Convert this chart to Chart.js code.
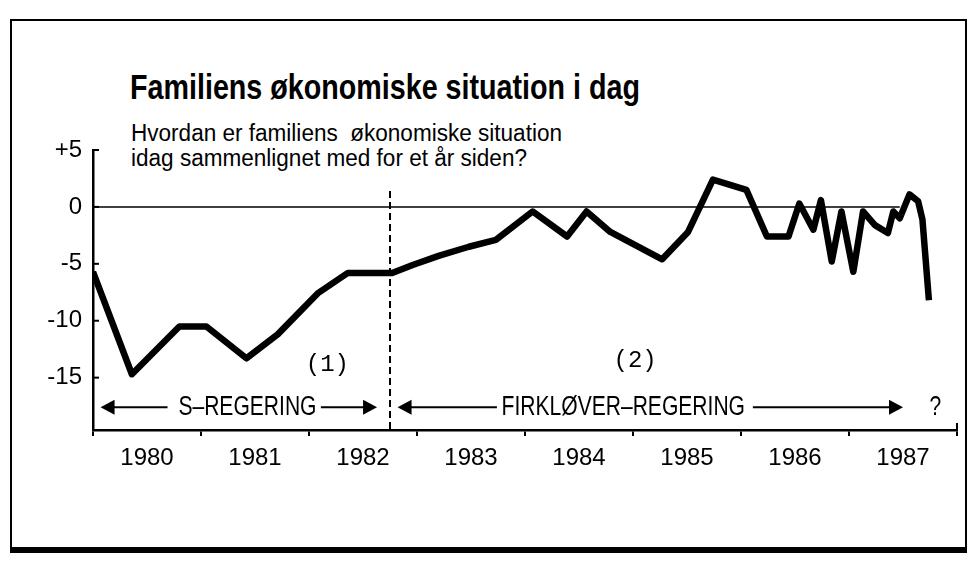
<!DOCTYPE html>
<html>
<head>
<meta charset="utf-8">
<script src="https://cdn.jsdelivr.net/npm/chart.js@4"></script>
<style>
  body { margin: 0; background: #fff; }
  #wrap { position: relative; width: 970px; height: 563px; overflow: hidden; }
  #frame { position: absolute; left: 10px; top: 19px; width: 953px; height: 526px;
           border: 2px solid #000; border-bottom-width: 6px; }
  .txt { position: absolute; color: #000; white-space: pre; transform-origin: 0 0;
         font-family: 'Liberation Sans', Arial, sans-serif; }
  #title { left: 130px; top: 69px; font-size: 35px; line-height: 35px; font-weight: bold; }
  #sub { left: 131px; top: 121px; font-size: 23px; line-height: 25px; }
  canvas { position: absolute; left: 0; top: 0; }
</style>
</head>
<body>
<div id="wrap">
  <div id="frame"></div>
  <div class="txt" id="title" data-w="510">Familiens økonomiske situation i dag</div>
  <div class="txt" id="sub" data-w="431">Hvordan er familiens  økonomiske situation
idag sammenlignet med for et år siden?</div>
  <canvas id="myChart" width="970" height="563"></canvas>
</div>
<script>
const FONT = "'Liberation Sans', Arial, sans-serif";

// year labels on the x axis
const years = [1980, 1981, 1982, 1983, 1984, 1985, 1986, 1987];
// y axis ticks
const yTicks = [5, 0, -5, -10, -15];
// survey dates as decimal years
const dates = [
  1980.00, 1980.36, 1980.80, 1981.05, 1981.42, 1981.71, 1982.08, 1982.36,
  1982.77, 1982.96, 1983.20, 1983.48, 1983.73, 1984.07, 1984.39, 1984.57,
  1984.79, 1985.27, 1985.51, 1985.74, 1986.05, 1986.24, 1986.44, 1986.54,
  1986.67, 1986.74, 1986.84, 1986.93, 1987.04, 1987.13, 1987.24, 1987.36,
  1987.41, 1987.47, 1987.56, 1987.64, 1987.68, 1987.74
];
// net balance: better minus worse off
const values = [
  -5.7, -14.7, -10.5, -10.5, -13.3, -11.2, -7.6, -5.8,
  -5.8, -5.1, -4.3, -3.5, -2.9, -0.4, -2.6, -0.4,
  -2.2, -4.6, -2.2, 2.4, 1.5, -2.6, -2.6, 0.3,
  -2.0, 0.6, -4.8, -0.4, -5.7, -0.4, -1.6, -2.3,
  -0.4, -1.0, 1.1, 0.5, -1.1, -8.2
];
// change of government, Sept 1982
const shift = 1982.75;

// texts and arrows below the curve, in data units
const notes = [
  { text: '(1)', x: 1982.17, y: -13.9, mono: true },
  { text: '(2)', x: 1985.02, y: -13.5, mono: true },
  { text: 'S–REGERING', x: 1981.43, y: -17.6 },
  { text: 'FIRKLØVER–REGERING', x: 1984.91, y: -17.6 },
  { text: '?', x: 1987.80, y: -17.6 }
];
const arrows = [
  { from: 1980.69, to: 1980.07, y: -17.6 },
  { from: 1982.11, to: 1982.63, y: -17.6 },
  { from: 1983.74, to: 1982.82, y: -17.6 },
  { from: 1986.11, to: 1987.50, y: -17.6 }
];

// squeeze the html headings to the narrow face of the original
document.querySelectorAll('.txt').forEach(el => {
  const w = el.getBoundingClientRect().width;
  el.style.transform = 'scaleX(' + (el.dataset.w / w) + ')';
});

const extras = {
  id: 'extras',
  afterDatasetsDraw(chart) {
    const { ctx, scales: { x, y } } = chart;
    ctx.save();
    ctx.fillStyle = '#000';
    ctx.strokeStyle = '#000';
    // inward ticks on y axis
    ctx.lineWidth = 2;
    yTicks.forEach(v => {
      const py = y.getPixelForValue(v);
      ctx.beginPath();
      ctx.moveTo(x.left, py);
      ctx.lineTo(x.left + 6, py);
      ctx.stroke();
    });
    // small upturn at the end of x axis
    ctx.beginPath();
    ctx.moveTo(x.right, y.bottom);
    ctx.lineTo(x.right, y.bottom - 7);
    ctx.stroke();

    ctx.textAlign = 'center';
    ctx.textBaseline = 'middle';
    notes.forEach(n => {
      const px = x.getPixelForValue(n.x), py = y.getPixelForValue(n.y);
      ctx.save();
      ctx.translate(px, py);
      if (n.mono) {
        ctx.font = "24px 'Liberation Mono', 'DejaVu Sans Mono', monospace";
      } else {
        ctx.font = '27px ' + FONT;
        ctx.scale(0.78, 1);
      }
      ctx.fillText(n.text, 0, 0);
      ctx.restore();
    });
    arrows.forEach(a => {
      const x1 = x.getPixelForValue(a.from), x2 = x.getPixelForValue(a.to);
      const py = y.getPixelForValue(a.y);
      const dir = x2 > x1 ? 1 : -1;
      ctx.lineWidth = 2;
      ctx.beginPath();
      ctx.moveTo(x1, py);
      ctx.lineTo(x2 - dir * 10, py);
      ctx.stroke();
      ctx.beginPath();
      ctx.moveTo(x2, py);
      ctx.lineTo(x2 - dir * 14, py - 7.5);
      ctx.lineTo(x2 - dir * 14, py + 7.5);
      ctx.closePath();
      ctx.fill();
    });
    ctx.restore();
  }
};

new Chart(document.getElementById('myChart'), {
  type: 'line',
  data: {
    datasets: [
      {
        data: dates.map((d, i) => ({ x: d, y: values[i] })),
        borderColor: '#000',
        borderWidth: 6.5,
        borderJoinStyle: 'round',
        pointRadius: 0,
        tension: 0,
        order: 0
      },
      {
        data: [{ x: 1980, y: 0 }, { x: 1987.47, y: 0 }],
        borderColor: '#000',
        borderWidth: 1.5,
        pointRadius: 0,
        order: 1
      },
      {
        data: [{ x: shift, y: 1.4 }, { x: shift, y: -19.6 }],
        borderColor: '#000',
        borderWidth: 2,
        borderDash: [7, 4],
        pointRadius: 0,
        order: 2
      }
    ]
  },
  options: {
    responsive: false,
    animation: false,
    layout: { padding: { top: 150, left: 20, right: 13, bottom: 0 } },
    plugins: { legend: { display: false }, tooltip: { enabled: false } },
    scales: {
      x: {
        type: 'linear',
        min: 1980,
        max: 1988,
        afterFit: s => { s.height = 133; },
        afterBuildTicks: s => { s.ticks = years.concat([1988]).map(v => ({ value: v })); },
        ticks: {
          callback: v => years.includes(v) ? String(v) : '',
          labelOffset: 54,
          padding: 8,
          maxRotation: 0,
          autoSkip: false,
          color: '#000',
          font: { family: FONT, size: 24 }
        },
        grid: { drawOnChartArea: false, tickLength: 6, color: '#000', lineWidth: 2 },
        border: { color: '#000', width: 2.5 }
      },
      y: {
        min: -19.6,
        max: 5,
        afterFit: s => { s.width = 73; },
        afterBuildTicks: s => { s.ticks = yTicks.map(v => ({ value: v })); },
        ticks: {
          callback: v => v > 0 ? '+' + v : String(v),
          padding: 11,
          color: '#000',
          font: { family: FONT, size: 24 }
        },
        grid: { drawOnChartArea: false, drawTicks: false },
        border: { color: '#000', width: 2.5 }
      }
    }
  },
  plugins: [extras]
});
</script>
</body>
</html>
